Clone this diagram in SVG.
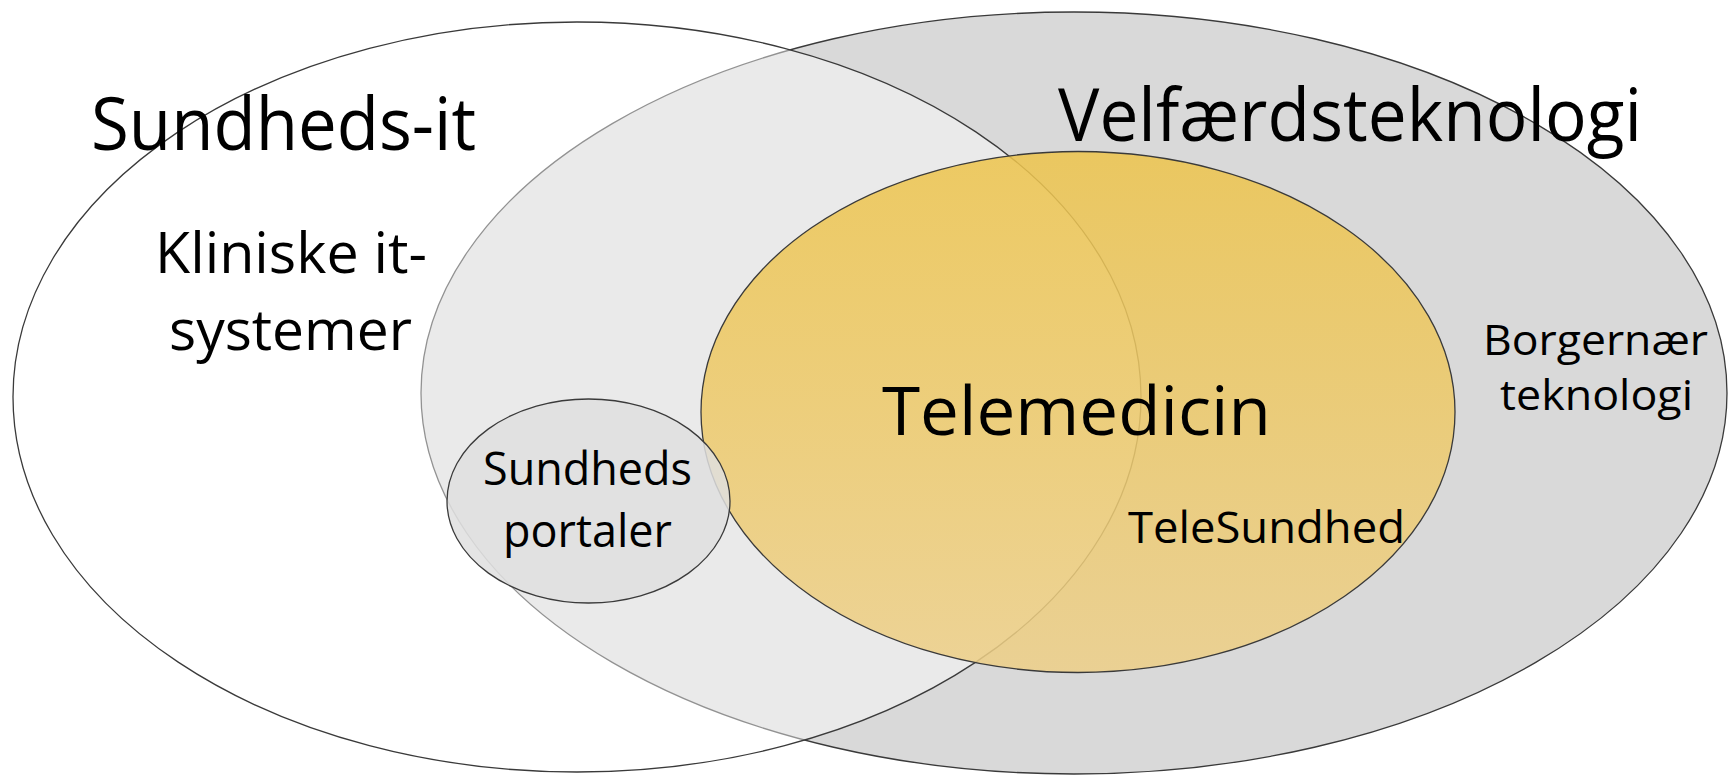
<svg xmlns="http://www.w3.org/2000/svg" width="1728" height="777" viewBox="0 0 1728 777">
<style>
.lbl{font-family:"Open Sans","Noto Sans","Liberation Sans",sans-serif;fill:#000;text-anchor:middle}
.outline{stroke:#3a3a3a;stroke-width:1.3}
</style>
<defs>
<linearGradient id="gold" x1="0" y1="0" x2="0" y2="1">
<stop offset="0" stop-color="#edc44c"/>
<stop offset="1" stop-color="#edcf88"/>
</linearGradient>
</defs>
<rect width="1728" height="777" fill="#fff"/>
<g id="velfaerd">
<ellipse class="outline" cx="1074" cy="393" rx="653" ry="381" fill="#d9d9d9"/>
</g>
<g id="sundheds-it">
<ellipse class="outline" cx="577" cy="397" rx="564" ry="375" fill="#fff" fill-opacity="0.45"/>
</g>
<g id="telemedicin">
<ellipse class="outline" cx="1078" cy="412" rx="377" ry="260.5" fill="url(#gold)" fill-opacity="0.86"/>
</g>
<g id="portaler">
<ellipse class="outline" cx="588.5" cy="501" rx="141.5" ry="102" fill="#dfdfdf" fill-opacity="0.85"/>
</g>
<g id="labels">
<text class="lbl" x="283.5" y="150" font-size="73" textLength="385" lengthAdjust="spacingAndGlyphs">Sundheds-it</text>
<text class="lbl" x="1350" y="141" font-size="74" textLength="584" lengthAdjust="spacingAndGlyphs">Velfærdsteknologi</text>
<text class="lbl" x="291" y="273" font-size="57" textLength="272" lengthAdjust="spacingAndGlyphs">Kliniske it-</text>
<text class="lbl" x="290.5" y="350" font-size="57" textLength="243" lengthAdjust="spacingAndGlyphs">systemer</text>
<text class="lbl" x="1076.5" y="435" font-size="67" textLength="389" lengthAdjust="spacingAndGlyphs">Telemedicin</text>
<text class="lbl" x="587.5" y="485" font-size="46" textLength="209" lengthAdjust="spacingAndGlyphs">Sundheds</text>
<text class="lbl" x="587.5" y="547" font-size="46" textLength="169" lengthAdjust="spacingAndGlyphs">portaler</text>
<text class="lbl" x="1595.5" y="355" font-size="42" textLength="225" lengthAdjust="spacingAndGlyphs">Borgernær</text>
<text class="lbl" x="1596.5" y="410" font-size="42" textLength="193" lengthAdjust="spacingAndGlyphs">teknologi</text>
<text class="lbl" x="1266.5" y="543" font-size="43" textLength="277" lengthAdjust="spacingAndGlyphs">TeleSundhed</text>
</g>
<g id="connectors"/>
</svg>
